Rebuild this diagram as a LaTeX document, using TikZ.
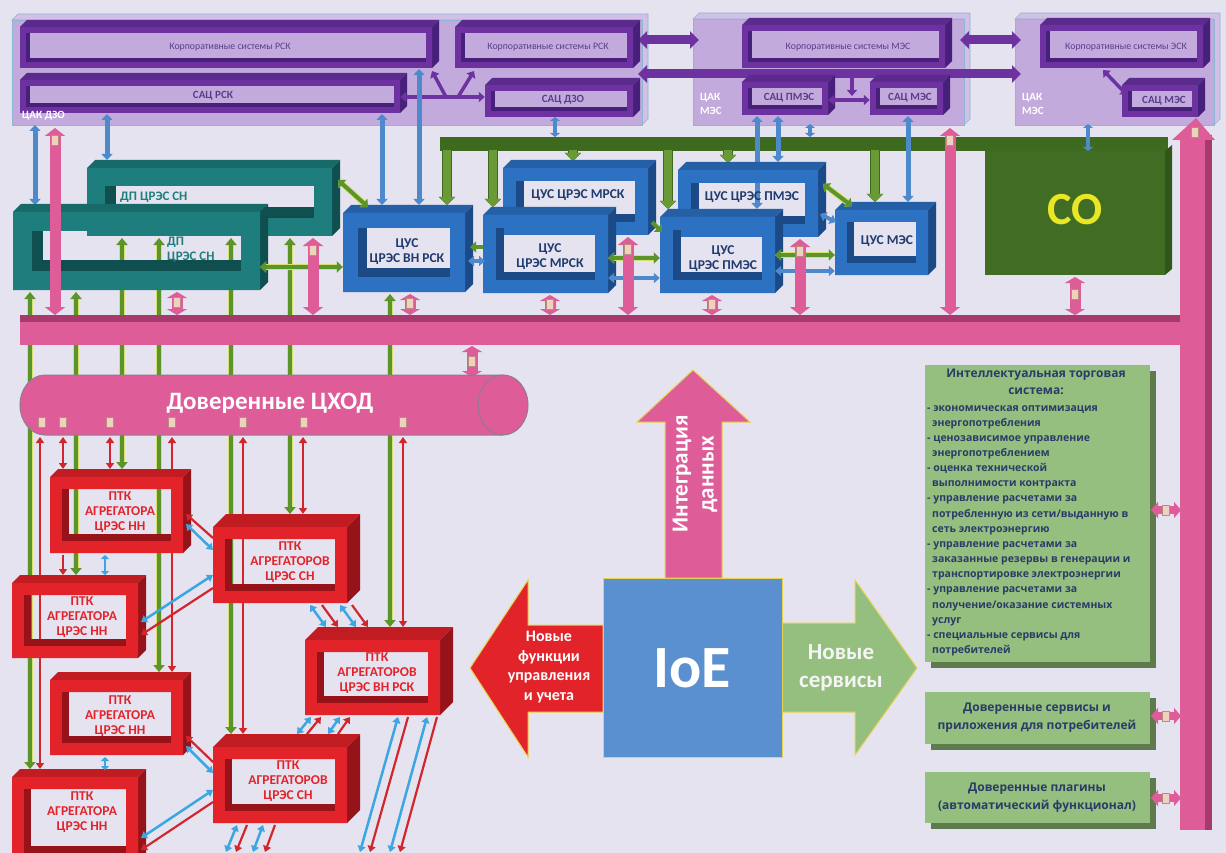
\documentclass[tikz,border=0pt]{standalone}
\usepackage{fontspec}
\setmainfont{Carlito}
\newfontfamily\osans{Open Sans}
\usetikzlibrary{arrows.meta,fit}
\definecolor{bg}{HTML}{E5E3F0}
\definecolor{cont}{HTML}{C3AADC}
\definecolor{contT}{HTML}{D2C0E6}
\definecolor{contB}{HTML}{8DB6D4}
\definecolor{pMain}{HTML}{6E32A0}
\definecolor{pTop}{HTML}{5A2A8C}
\definecolor{pSide}{HTML}{46207A}
\definecolor{pText}{HTML}{5B3B8C}
\definecolor{tMain}{HTML}{1E7E7D}
\definecolor{tTop}{HTML}{186A69}
\definecolor{tSide}{HTML}{0F4F4F}
\definecolor{bMain}{HTML}{2D72C2}
\definecolor{bTop}{HTML}{2560A6}
\definecolor{bSide}{HTML}{1B4A86}
\definecolor{bText}{HTML}{1F3A6E}
\definecolor{rMain}{HTML}{E3232A}
\definecolor{rTop}{HTML}{C01C22}
\definecolor{rSide}{HTML}{961419}
\definecolor{pinkC}{HTML}{DE5C98}
\definecolor{pinkD}{HTML}{A63A6C}
\definecolor{cylB}{HTML}{8E7C90}
\definecolor{gbus}{HTML}{3E6A20}
\definecolor{gfatC}{HTML}{6A9A35}
\definecolor{garr}{HTML}{5A942A}
\definecolor{gyel}{HTML}{D8E070}
\definecolor{blueA}{HTML}{4E8ACB}
\definecolor{cyanA}{HTML}{3BA6E2}
\definecolor{redA}{HTML}{D0262C}
\definecolor{gbox}{HTML}{95BF7F}
\definecolor{gboxS}{HTML}{5E7B4D}
\definecolor{gText}{HTML}{2A3B68}
\definecolor{ioeC}{HTML}{5A8FD0}
\definecolor{yedge}{HTML}{E6D34E}
\definecolor{soC}{HTML}{416C23}
\definecolor{soT}{HTML}{E9E625}
\definecolor{docF}{HTML}{EFD2BE}
\definecolor{docB}{HTML}{B88C80}

\newcommand\FrameBox[8]{%
  \fill[#8Top] (#2,#3) -- ({#2+#7},{#3-#7}) -- ({#4+#7},{#3-#7}) -- (#4,#3) -- cycle;
  \fill[#8Side] (#4,#3) -- ({#4+#7},{#3-#7}) -- ({#4+#7},{#5-#7}) -- (#4,#5) -- cycle;
  \fill[#8Main,even odd rule] (#2,#3) rectangle (#4,#5) ({#2+#6},{#3+#6}) rectangle ({#4-#6},{#5-#6});
  \fill[#8Side] ({#2+#6},{#3+#6}) rectangle ({#2+1.6*#6},{#5-#6});
  \fill[#8Side] ({#2+#6},{#5-1.6*#6}) rectangle ({#4-#6},{#5-#6});
  \node[fit={(#2,#3) (#4,#5)},inner sep=0pt] (#1) {};
}
\newcommand\Container[5]{%
  \filldraw[fill=contT,draw=contB,line width=0.6pt] (#2,#3) -- ({#2+6},{#3-6}) -- ({#4+6},{#3-6}) -- ({#4+6},{#5-6}) -- (#4,#5) -- (#4,#3) -- cycle;
  \filldraw[fill=cont,draw=contB,line width=0.6pt] (#2,#3) rectangle (#4,#5);
  \node[fit={(#2,#3) (#4,#5)},inner sep=0pt] (#1) {};
}
\newcommand\DocIcon[2]{\filldraw[fill=docF,draw=docB,line width=0.4pt] ({#1-3.5},{#2-5}) rectangle ({#1+3.5},{#2+5});}

\tikzset{
  parr/.style={draw=pMain,line width=9pt,{Triangle[length=9pt,width=17pt]}-{Triangle[length=9pt,width=17pt]}},
  parrS/.style={draw=pMain,line width=3.5pt,{Triangle[length=6pt,width=10pt]}-{Triangle[length=6pt,width=10pt]}},
  parrE/.style={draw=pMain,line width=3.5pt,-{Triangle[length=6pt,width=10pt]}},
  barr/.style={draw=blueA,line width=5pt,{Triangle[length=6pt,width=11pt]}-{Triangle[length=6pt,width=11pt]}},
  barrS/.style={draw=blueA,line width=4pt,{Triangle[length=4pt,width=10pt]}-{Triangle[length=4pt,width=10pt]}},
  gfat/.style={draw=gfatC,line width=8pt,preaction={draw=gbus,line width=10pt},-{Triangle[length=8pt,width=16pt]}},
  gline/.style={draw=garr,line width=3.5pt,preaction={draw=gyel,line width=5.5pt},{Triangle[length=7pt,width=11pt]}-{Triangle[length=7pt,width=11pt]}},
  gdbl/.style={draw=garr,line width=4pt,preaction={draw=gyel,line width=6pt},{Triangle[length=6pt,width=11pt]}-{Triangle[length=6pt,width=11pt]}},
  gsgl/.style={draw=garr,line width=4pt,-{Triangle[length=6pt,width=11pt]}},
  bdbl/.style={draw=blueA,line width=4pt,{Triangle[length=6pt,width=10pt]}-{Triangle[length=6pt,width=10pt]}},
  rline/.style={draw=redA,line width=2.2pt,{Triangle[length=6pt,width=8pt]}-{Triangle[length=6pt,width=8pt]}},
  rarr/.style={draw=redA,line width=2.2pt,-{Triangle[length=6pt,width=8pt]}},
  carr/.style={draw=cyanA,line width=2.5pt,{Triangle[length=6pt,width=8pt]}-{Triangle[length=6pt,width=8pt]}},
  carrS/.style={draw=cyanA,line width=2.5pt,{Triangle[length=4pt,width=8pt]}-{Triangle[length=4pt,width=8pt]}},
  pfat/.style={draw=pinkC,line width=11pt,{Triangle[length=8pt,width=20pt]}-{Triangle[length=8pt,width=20pt]}},
  pfatS/.style={draw=pinkC,line width=11pt,{Triangle[length=6pt,width=20pt]}-{Triangle[length=6pt,width=20pt]}},
  pfatH/.style={draw=pinkC,line width=8pt,{Triangle[length=7pt,width=16pt]}-{Triangle[length=7pt,width=16pt]}},
  ptext/.style={text=pText,font=\fontsize{9.8}{10}\selectfont,inner sep=0pt},
  ptextB/.style={text=pText,font=\bfseries\fontsize{11}{12}\selectfont,inner sep=0pt},
  ctext/.style={text=white,font=\bfseries\fontsize{11}{14}\selectfont,align=left,inner sep=0pt},
  ttext/.style={text=tMain,font=\bfseries\fontsize{13}{15}\selectfont,align=left,inner sep=0pt},
  btext/.style={text=bText,font=\bfseries\fontsize{13.5}{15}\selectfont,align=center,inner sep=0pt},
  rtext/.style={text=rMain,font=\bfseries\fontsize{13.5}{15}\selectfont,align=center,inner sep=0pt},
  gtxt/.style={text=gText,font=\osans\bfseries\fontsize{10.5}{15.15}\selectfont,inner sep=0pt},
  gtxtT/.style={text=gText,font=\osans\bfseries\fontsize{12}{17}\selectfont,inner sep=0pt},
  gtxtB/.style={text=gText,font=\osans\bfseries\fontsize{12}{18}\selectfont,align=center,inner sep=0pt},
}

\begin{document}
\begin{tikzpicture}[x=1pt,y=-1pt]
\useasboundingbox (0,0) rectangle (1226,853);
\fill[bg] (0,0) rectangle (1226,853);

% ---------- top containers ----------
\Container{czo}{12}{20}{642}{125}
\Container{cmes}{693}{19}{964}{125}
\Container{cesk}{1015}{19}{1214}{125}

\draw[parr] (638,40) -- (699,40);
\draw[parr] (638,74) -- (1021,74);
\draw[parr] (960,40) -- (1021,40);

\FrameBox{kr1}{20}{27}{432}{68}{6}{7}{p}
\FrameBox{kr2}{455}{27}{633}{68}{6}{7}{p}
\FrameBox{sr}{20}{80}{400}{113}{6}{7}{p}
\FrameBox{sdzo}{485}{85}{633}{117}{6}{7}{p}
\FrameBox{krm}{742}{25}{945}{68}{6}{7}{p}
\FrameBox{spm}{742}{82}{828}{115}{6}{7}{p}
\FrameBox{smes}{870}{82}{943}{115}{6}{7}{p}
\FrameBox{kre}{1040}{25}{1203}{68}{6}{7}{p}
\FrameBox{smesb}{1122}{85}{1198}{117}{6}{7}{p}

\node[ptext] (kr1l) at (230,47) {Корпоративные системы РСК};
\node[ptext] (kr2l) at (548,47) {Корпоративные системы РСК};
\node[ptextB] (srl) at (213,96) {САЦ РСК};
\node[ptextB] (sdzol) at (563,100) {САЦ ДЗО};
\node[ptext] (krml) at (848,47) {Корпоративные системы МЭС};
\node[ptextB] (spml) at (789,98) {САЦ ПМЭС};
\node[ptextB] (smesl) at (910,98) {САЦ МЭС};
\node[ptext] (krel) at (1126,47) {Корпоративные системы ЭСК};
\node[ptextB] (smesbl) at (1164,101) {САЦ МЭС};

\node[ctext,anchor=west] (czol) at (22,116) {ЦАК ДЗО};
\node[ctext,anchor=west] (cmesl) at (700,104) {ЦАК\\МЭС};
\node[ctext,anchor=west] (ceskl) at (1022,104) {ЦАК\\МЭС};

\draw[parrS] (sr.east |- 0,97) -- (sdzo.west |- 0,97);
\draw[parrE] (446,97) -- (432,71);
\draw[parrE] (458,97) -- (474,71);
\draw[parrS] (spm.east |- 0,100) -- (smes.west |- 0,100);
\draw[parrS] (852,70) -- (852,96);
\draw[parrS] (1103,70) -- (1127,95);

% ---------- green bus and SO ----------
\fill[gbus] (440,137) rectangle (1168,151);
\fill[gbus!80!black] (1165,151) -- (1172,145) -- (1172,269) -- (1165,275) -- cycle;
\fill[soC] (985,151) rectangle (1165,275);
\node[text=soT,font=\bfseries\fontsize{46}{46}\selectfont,inner sep=0pt] (sol) at (1075,210) {СО};

% ---------- blue verticals from top ----------
\draw[barr] (35,125) -- (35,205);
\draw[barr] (107,114) -- (107,160);
\draw[barr] (382,114) -- (382,205);
\draw[barr] (419,69) -- (419,205);
\draw[barrS] (555,117) -- (555,137);
\draw[barr] (757,116) -- (757,209);
\draw[barr] (778,116) -- (778,162);
\draw[barrS] (810,124) -- (810,137);
\draw[barr] (908,116) -- (908,202);
\draw[barrS] (1088,124) -- (1088,151);

% ---------- green fat arrows from bus ----------
\draw[gfat] (447,150) -- (447,205);
\draw[gfat] (493,150) -- (493,207);
\draw[gfat] (573,150) -- (573,161);
\draw[gfat] (668,150) -- (668,209);
\draw[gfat] (728,150) -- (728,163);
\draw[gfat] (875,150) -- (875,202);

% ---------- back boxes ----------
\FrameBox{dpb}{87}{168}{332}{236}{18}{8}{t}
\FrameBox{mrb}{503}{168}{648}{235}{13}{8}{b}
\FrameBox{pmb}{678}{170}{818}{237}{13}{8}{b}
\node[ttext,anchor=west] (dpbl) at (120,197) {ДП ЦРЭС СН};
\node[btext] (mrbl) at (578,195) {ЦУС ЦРЭС МРСК};
\node[btext] (pmbl) at (752,197) {ЦУС ЦРЭС ПМЭС};

% ---------- long green verticals ----------
\draw[gline] (30,292) -- (30,769);
\draw[gline] (76,292) -- (76,575);
\draw[gline] (122,238) -- (122,469);
\draw[gline] (159,238) -- (159,672);
\draw[gline] (231,238) -- (231,734);
\draw[gline] (290,238) -- (290,514);
\draw[gline] (390,294) -- (390,627);

% ---------- front boxes ----------
\FrameBox{dpf}{13}{212}{260}{290}{19}{8}{t}
\FrameBox{vn}{343}{213}{465}{292}{15}{8}{b}
\FrameBox{mrf}{483}{215}{608}{293}{13}{8}{b}
\FrameBox{pmf}{660}{217}{775}{293}{13}{8}{b}
\FrameBox{mes}{835}{210}{928}{275}{12}{8}{b}
\node[ttext,anchor=west] (dpfl) at (167,250) {ДП\\ЦРЭС СН};
\node[btext] (vnl) at (407,252) {ЦУС\\ЦРЭС ВН РСК};
\node[btext] (mrfl) at (550,257) {ЦУС\\ЦРЭС МРСК};
\node[btext] (pmfl) at (723,259) {ЦУС\\ЦРЭС ПМЭС};
\node[btext] (mesl) at (887,241) {ЦУС МЭС};

% ---------- connectors between upper boxes ----------
\draw[gdbl] (dpf.east |- 0,267) -- (vn.west |- 0,267);
\draw[gdbl] (338,180) -- (368,207);
\draw[gsgl] (483,247) -- (470,247);
\draw[bdbl] (468,261) -- (485,261);
\draw[gdbl] (mrf.east |- 0,258) -- (pmf.west |- 0,258);
\draw[bdbl] (mrf.east |- 0,278) -- (pmf.west |- 0,278);
\draw[gdbl] (pmf.east |- 0,255) -- (mes.west |- 0,255);
\draw[bdbl] (pmf.east |- 0,271) -- (mes.west |- 0,271);
\draw[gdbl] (823,184) -- (852,206);
\draw[bdbl] (820,214) -- (836,222);
\draw[gsgl] (652,222) -- (662,232);

% ---------- pink bus ----------
\fill[pinkD] (20,315) rectangle (1212,322);
\fill[pinkC] (20,322) rectangle (1205,345);
\fill[pinkC] (1180,135) rectangle (1205,830);
\fill[pinkD] (1205,135) rectangle (1212,830);
\fill[pinkC] (1172,140) -- (1196,118) -- (1215,140) -- cycle;

\draw[pfat] (55,128) -- (55,315);
\draw[pfatS] (177,292) -- (177,315);
\draw[pfat] (313,238) -- (313,315);
\draw[pfatS] (410,294) -- (410,315);
\draw[pfatS] (550,295) -- (550,315);
\draw[pfat] (628,237) -- (628,315);
\draw[pfatS] (712,295) -- (712,315);
\draw[pfat] (800,239) -- (800,315);
\draw[pfat] (950,128) -- (950,315);
\draw[pfatS] (1075,277) -- (1075,315);
\draw[pfatS] (472,346) -- (472,377);
\foreach \ix/\iy in {55/140,177/302,313/250,410/303,550/304,628/249,712/304,800/251,950/140,1075/294,472/361,1195/132}
  {\DocIcon{\ix}{\iy}}

% ---------- cylinder ----------
\fill[pinkC] (45,405) ellipse [x radius=25,y radius=30];
\fill[pinkC] (45,375) rectangle (503,435);
\draw[cylB,line width=1pt] (503,375) -- (45,375) arc[start angle=270,end angle=90,x radius=25,y radius=30] -- (503,435);
\filldraw[fill=pinkC,draw=cylB,line width=1pt] (503,405) ellipse [x radius=25,y radius=30];
\node[text=white,font=\bfseries\fontsize{25}{25}\selectfont,inner sep=0pt] (cxod) at (270,403) {Доверенные ЦХОД};
\foreach \ix in {42,63,110,172,243,304,403} {\DocIcon{\ix}{422}}

% ---------- red verticals ----------
\draw[rline] (40,437) -- (40,769);
\draw[rline] (63,437) -- (63,469);
\draw[rline] (110,437) -- (110,469);
\draw[rline] (172,437) -- (172,672);
\draw[rline] (243,437) -- (243,734);
\draw[rline] (303,437) -- (303,514);
\draw[rline] (403,437) -- (403,627);
\draw[rarr] (63,555) -- (63,575);

% ---------- PTK boxes ----------
\FrameBox{aa}{50}{477}{183}{553}{12}{8}{r}
\FrameBox{ab}{12}{583}{138}{658}{12}{8}{r}
\FrameBox{ac}{50}{680}{183}{755}{12}{8}{r}
\FrameBox{ad}{12}{777}{138}{865}{12}{8}{r}
\FrameBox{ba}{213}{527}{347}{603}{12}{13}{r}
\FrameBox{bb}{305}{640}{440}{715}{12}{13}{r}
\FrameBox{bc}{213}{747}{347}{823}{12}{13}{r}
\node[rtext] (aal) at (120,512) {ПТК\\АГРЕГАТОРА\\ЦРЭС НН};
\node[rtext] (abl) at (82,617) {ПТК\\АГРЕГАТОРА\\ЦРЭС НН};
\node[rtext] (acl) at (120,716) {ПТК\\АГРЕГАТОРА\\ЦРЭС НН};
\node[rtext] (adl) at (82,812) {ПТК\\АГРЕГАТОРА\\ЦРЭС НН};
\node[rtext] (bal) at (290,562) {ПТК\\АГРЕГАТОРОВ\\ЦРЭС СН};
\node[rtext] (bbl) at (377,673) {ПТК\\АГРЕГАТОРОВ\\ЦРЭС ВН РСК};
\node[rtext] (bcl) at (288,781) {ПТК\\АГРЕГАТОРОВ\\ЦРЭС СН};

% ---------- PTK connectors ----------
\draw[carrS] (105,555) -- (105,575);
\draw[carrS] (105,757) -- (105,770);
\draw[rarr] (213,538) -- (186,514);
\draw[carr] (186,524) -- (213,550);
\draw[carr] (213,575) -- (141,622);
\draw[rarr] (213,588) -- (141,635);
\draw[rarr] (213,762) -- (186,736);
\draw[carr] (186,746) -- (213,773);
\draw[carr] (213,790) -- (141,838);
\draw[rarr] (213,802) -- (141,850);
\draw[carr] (310,605) -- (326,627);
\draw[rarr] (322,605) -- (338,627);
\draw[carr] (340,605) -- (356,627);
\draw[rarr] (352,605) -- (368,627);
\draw[carr] (297,734) -- (311,717);
\draw[rarr] (307,734) -- (321,717);
\draw[carr] (328,734) -- (340,717);
\draw[rarr] (338,734) -- (350,717);
\draw[carr] (237,825) -- (226,852);
\draw[rarr] (247,825) -- (236,852);
\draw[carr] (263,825) -- (253,852);
\draw[rarr] (275,825) -- (265,852);
\draw[carr] (398,717) -- (360,852);
\draw[rarr] (408,717) -- (370,852);
\draw[carr] (427,717) -- (390,852);
\draw[rarr] (437,717) -- (400,852);

% ---------- IoE ----------
\filldraw[fill=pinkC,draw=yedge,line width=1pt] (665,578) -- (665,422) -- (637,422) -- (693,370) -- (750,422) -- (722,422) -- (722,578) -- cycle;
\filldraw[fill=rMain,draw=yedge,line width=1pt] (603,625) -- (528,625) -- (528,580) -- (470,668) -- (528,757) -- (528,712) -- (603,712) -- cycle;
\filldraw[fill=gbox,draw=yedge,line width=1pt] (781,623) -- (855,623) -- (855,580) -- (917,668) -- (855,755) -- (855,712) -- (781,712) -- cycle;
\filldraw[fill=ioeC,draw=yedge,line width=1pt] (603,578) rectangle (782,757);
\node[text=white,font=\bfseries\fontsize{60}{60}\selectfont,inner sep=0pt] (ioe) at (692,668) {IoE};
\node[text=white,font=\bfseries\fontsize{23}{26}\selectfont,align=center,rotate=90,inner sep=0pt] (integ) at (695,474) {Интеграция\\данных};
\node[text=white,font=\bfseries\fontsize{16}{19.5}\selectfont,align=center,inner sep=0pt] (newf) at (549,667) {Новые\\функции\\управления\\и учета};
\node[text=white!92!gray,font=\bfseries\fontsize{23}{28}\selectfont,align=center,inner sep=0pt] (news) at (841,668) {Новые\\сервисы};

% ---------- right green boxes ----------
\fill[gboxS] (931,371) rectangle (1156,668);
\fill[gbox] (925,365) rectangle (1150,662);
\node[gtxtT,align=center,anchor=north] (itst) at (1036,369) {Интеллектуальная торговая\\система:};
\node[gtxt,align=left,anchor=north west] (itsl) at (927,405) {- экономическая оптимизация\\
\hspace*{5pt}энергопотребления\\
- ценозависимое управление\\
\hspace*{5pt}энергопотреблением\\
- оценка технической\\
\hspace*{5pt}выполнимости контракта\\
- управление расчетами за\\
\hspace*{5pt}потребленную из сети/выданную в\\
\hspace*{5pt}сеть электроэнергию\\
- управление расчетами за\\
\hspace*{5pt}заказанные резервы в генерации и\\
\hspace*{5pt}транспортировке электроэнергии\\
- управление расчетами за\\
\hspace*{5pt}получение/оказание системных\\
\hspace*{5pt}услуг\\
- специальные сервисы для\\
\hspace*{5pt}потребителей};

\fill[gboxS] (931,698) rectangle (1156,750);
\fill[gbox] (925,692) rectangle (1150,744);
\node[gtxtB] (dsl) at (1037,718) {Доверенные сервисы и\\приложения для потребителей};
\fill[gboxS] (931,778) rectangle (1156,829);
\fill[gbox] (925,772) rectangle (1150,823);
\node[gtxtB] (dpl) at (1037,798) {Доверенные плагины\\(автоматический функционал)};

\draw[pfatH] (1151,510) -- (1181,510);
\draw[pfatH] (1151,716) -- (1181,716);
\draw[pfatH] (1151,798) -- (1181,798);
\foreach \iy in {510,716,798} {\DocIcon{1166}{\iy}}
\end{tikzpicture}
\end{document}
